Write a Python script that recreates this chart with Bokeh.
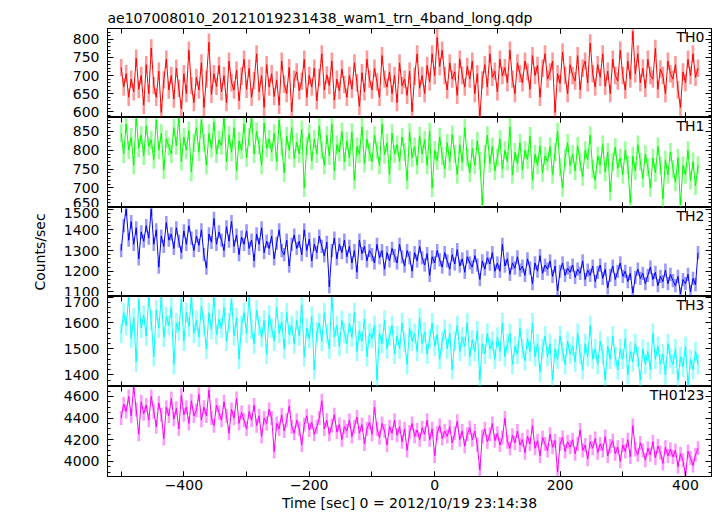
import numpy as np
from bokeh.plotting import figure
from bokeh.layouts import column
from bokeh.models import Range1d, LinearAxis, SingleIntervalTicker, Label, Title, ColumnDataSource
from bokeh.embed import file_html
from bokeh.resources import INLINE

title_text = "ae107008010_20121019231438_wam1_trn_4band_long.qdp"
x_label = "Time [sec] 0 = 2012/10/19 23:14:38"
y_label = "Counts/sec"
band_names = ["TH0", "TH1", "TH2", "TH3", "TH0123"]
band_colors = ["#ff0000", "#00ff00", "#0000ff", "#00ffff", "#ff00ff"]
x_tick_values = [-400, -200]
x_tick_labels = ["\u2212400", "\u2212200"]

# time bins (4 s) from -500 s to 420 s
time_sec = np.arange(-500, 421, 4)

th0 = [722, 668, 705, 640, 690, 655, 748, 662, 700, 618,
       730, 650, 776, 672, 640, 712, 598, 688, 745, 660,
       700, 635, 720, 665, 608, 705, 650, 770, 672, 625,
       695, 660, 735, 612, 690, 792, 648, 705, 670, 728,
       655, 700, 625, 740, 680, 660, 715, 630, 698, 745,
       662, 720, 640, 686, 760, 655, 700, 612, 730, 668,
       705, 642, 688, 618, 740, 676, 650, 722, 600, 690,
       710, 658, 684, 745, 640, 700, 668, 720, 630, 695,
       760, 660, 702, 672, 740, 632, 690, 658, 718, 675,
       640, 700, 662, 735, 680, 615, 708, 655, 745, 690,
       660, 720, 682, 640, 755, 690, 668, 710, 650, 700,
       625, 735, 672, 690, 645, 712, 600, 698, 760, 665,
       700, 650, 728, 682, 760, 700, 805, 725, 770, 700,
       660, 735, 690, 710, 645, 745, 700, 668, 725, 690,
       740, 650, 705, 582, 688, 730, 668, 760, 695, 712,
       655, 745, 700, 722, 680, 770, 690, 650, 735, 705,
       680, 740, 710, 662, 755, 700, 728, 640, 720, 760,
       690, 710, 740, 598, 705, 678, 765, 700, 650, 730,
       700, 685, 755, 660, 720, 740, 680, 790, 705, 668,
       730, 695, 760, 670, 712, 650, 745, 700, 685, 770,
       700, 660, 740, 690, 822, 705, 760, 680, 720, 665,
       745, 700, 690, 775, 662, 718, 700, 650, 740, 705,
       690, 730, 660, 612, 710, 680, 745, 700, 760, 695,
       720]

th1 = [845, 790, 870, 800, 835, 760, 888, 805, 840, 785,
       865, 810, 828, 775, 880, 800, 845, 748, 830, 810,
       790, 860, 812, 888, 770, 835, 800, 852, 742, 820,
       860, 795, 880, 820, 760, 845, 805, 875, 790, 828,
       812, 888, 770, 840, 795, 860, 745, 825, 800, 870,
       780, 835, 888, 790, 850, 812, 760, 872, 805, 830,
       795, 845, 770, 880, 810, 740, 838, 800, 860, 778,
       822, 790, 855, 700, 812, 845, 772, 830, 790, 865,
       800, 760, 840, 785, 870, 745, 815, 795, 850, 770,
       825, 780, 848, 720, 810, 790, 862, 765, 830, 795,
       770, 840, 800, 760, 870, 788, 820, 735, 845, 790,
       815, 770, 835, 795, 720, 848, 780, 810, 760, 838,
       790, 828, 760, 850, 700, 800, 772, 835, 785, 750,
       820, 770, 842, 790, 735, 815, 768, 860, 780, 740,
       805, 760, 825, 772, 655, 790, 840, 765, 810, 745,
       780, 830, 750, 800, 770, 862, 735, 795, 765, 820,
       748, 800, 775, 838, 720, 790, 760, 812, 740, 785,
       770, 810, 735, 795, 850, 755, 700, 780, 820, 760,
       790, 745, 812, 768, 730, 800, 775, 840, 750, 720,
       785, 760, 815, 742, 795, 690, 770, 808, 752, 780,
       735, 800, 760, 660, 785, 745, 815, 770, 725, 790,
       755, 700, 780, 740, 810, 760, 672, 775, 735, 795,
       750, 715, 780, 655, 760, 735, 800, 720, 770, 705,
       760]

th2 = [1300, 1420, 1500, 1350, 1440, 1330, 1410, 1260, 1390, 1345,
       1420, 1360, 1500, 1330, 1400, 1220, 1370, 1320, 1435, 1350,
       1380, 1310, 1410, 1345, 1290, 1395, 1330, 1420, 1360, 1300,
       1370, 1325, 1400, 1280, 1215, 1380, 1340, 1455, 1330, 1390,
       1350, 1300, 1415, 1345, 1440, 1320, 1375, 1280, 1365, 1330,
       1395, 1310, 1350, 1250, 1380, 1330, 1410, 1290, 1345, 1310,
       1370, 1260, 1335, 1400, 1300, 1280, 1350, 1225, 1330, 1375,
       1310, 1345, 1280, 1400, 1300, 1355, 1250, 1330, 1290, 1370,
       1320, 1275, 1340, 1125, 1300, 1360, 1260, 1330, 1290, 1350,
       1270, 1320, 1240, 1300, 1195, 1350, 1285, 1320, 1250, 1300,
       1280, 1240, 1330, 1265, 1300, 1210, 1290, 1250, 1310, 1275,
       1240, 1330, 1270, 1225, 1300, 1265, 1200, 1290, 1250, 1320,
       1265, 1230, 1285, 1180, 1270, 1240, 1300, 1255, 1220, 1290,
       1250, 1210, 1280, 1235, 1305, 1225, 1260, 1195, 1270, 1240,
       1220, 1275, 1230, 1160, 1250, 1210, 1265, 1235, 1290, 1200,
       1240, 1200, 1330, 1225, 1260, 1185, 1240, 1215, 1270, 1205,
       1225, 1180, 1260, 1215, 1140, 1240, 1200, 1275, 1190, 1230,
       1210, 1250, 1175, 1225, 1105, 1200, 1240, 1180, 1215, 1195,
       1230, 1170, 1210, 1190, 1250, 1160, 1205, 1180, 1225, 1150,
       1195, 1230, 1165, 1210, 1120, 1180, 1225, 1160, 1200, 1240,
       1175, 1200, 1150, 1190, 1095, 1170, 1210, 1165, 1190, 1140,
       1180, 1220, 1160, 1195, 1130, 1175, 1150, 1205, 1140, 1185,
       1155, 1130, 1175, 1090, 1160, 1140, 1185, 1100, 1165, 1135,
       1290]

th3 = [1560, 1640, 1590, 1700, 1540, 1620, 1450, 1690, 1580, 1630,
       1550, 1700, 1610, 1470, 1650, 1580, 1700, 1545, 1625, 1590,
       1660, 1440, 1600, 1570, 1690, 1530, 1640, 1585, 1700, 1560,
       1610, 1545, 1665, 1590, 1500, 1640, 1575, 1700, 1555, 1615,
       1580, 1660, 1530, 1600, 1690, 1550, 1620, 1460, 1590, 1640,
       1560, 1700, 1575, 1520, 1650, 1590, 1545, 1610, 1480, 1630,
       1580, 1530, 1660, 1560, 1605, 1500, 1640, 1555, 1590, 1520,
       1610, 1550, 1670, 1470, 1580, 1540, 1625, 1420, 1565, 1600,
       1530, 1640, 1560, 1500, 1700, 1545, 1590, 1510, 1610, 1560,
       1520, 1600, 1545, 1640, 1490, 1570, 1530, 1615, 1470, 1560,
       1540, 1590, 1380, 1560, 1520, 1610, 1500, 1550, 1590, 1480,
       1550, 1500, 1600, 1525, 1440, 1580, 1530, 1560, 1490, 1620,
       1520, 1565, 1480, 1540, 1600, 1510, 1555, 1460, 1530, 1575,
       1500, 1560, 1420, 1530, 1590, 1490, 1545, 1510, 1600, 1470,
       1535, 1490, 1570, 1380, 1520, 1480, 1560, 1500, 1530, 1460,
       1545, 1490, 1600, 1470, 1520, 1560, 1440, 1510, 1480, 1580,
       1500, 1455, 1540, 1490, 1600, 1470, 1520, 1410, 1500, 1550,
       1470, 1520, 1380, 1500, 1460, 1550, 1490, 1440, 1530, 1480,
       1510, 1450, 1560, 1480, 1420, 1520, 1470, 1590, 1460, 1500,
       1440, 1530, 1480, 1380, 1510, 1460, 1550, 1470, 1420, 1500,
       1460, 1540, 1400, 1490, 1450, 1520, 1470, 1380, 1500, 1440,
       1490, 1420, 1560, 1460, 1510, 1440, 1480, 1400, 1520, 1465,
       1440, 1500, 1380, 1470, 1430, 1510, 1360, 1460, 1420, 1490,
       1440]

th0123 = [4400, 4530, 4460, 4600, 4420, 4690, 4480, 4250, 4550, 4440,
          4520, 4380, 4600, 4460, 4320, 4540, 4430, 4210, 4500, 4420,
          4580, 4390, 4490, 4300, 4610, 4430, 4500, 4350, 4560, 4420,
          4470, 4620, 4380, 4500, 4420, 4660, 4400, 4330, 4520, 4450,
          4380, 4550, 4420, 4260, 4480, 4400, 4580, 4350, 4450, 4380,
          4300, 4460, 4380, 4520, 4330, 4420, 4230, 4400, 4350, 4480,
          4400, 4090, 4350, 4300, 4430, 4280, 4380, 4510, 4320, 4260,
          4380, 4300, 4150, 4340, 4420, 4290, 4360, 4250, 4320, 4400,
          4560, 4300, 4380, 4250, 4330, 4430, 4270, 4340, 4200, 4320,
          4280, 4380, 4230, 4320, 4410, 4260, 4340, 4160, 4300, 4360,
          4250, 4500, 4300, 4220, 4350, 4280, 4150, 4320, 4260, 4380,
          4240, 4320, 4180, 4300, 4100, 4270, 4350, 4230, 4290, 4200,
          4310, 4250, 4380, 4200, 4300, 4050, 4260, 4330, 4210, 4280,
          4230, 4320, 4170, 4260, 4370, 4200, 4280, 4140, 4250, 4310,
          4200, 4280, 4150, 3920, 4230, 4300, 4180, 4250, 4350, 4190,
          4260, 4150, 4220, 4400, 4180, 4120, 4240, 4170, 4280, 4150,
          4200, 4080, 4230, 4160, 4330, 4120, 4190, 4050, 4220, 4160,
          4100, 4250, 4130, 4190, 3900, 4160, 4220, 4090, 4180, 4130,
          4200, 4070, 4160, 4290, 4100, 4150, 4020, 4180, 4120, 4210,
          4080, 4160, 4100, 4230, 4050, 4140, 4190, 4070, 4130, 4000,
          4150, 4090, 4200, 4040, 4330, 4110, 4060, 4170, 4100, 4010,
          4120, 4060, 4180, 4030, 4140, 4080, 3980, 4130, 4050, 4110,
          4040, 4100, 3950, 4070, 4010, 3870, 4090, 4030, 3960, 4060,
          4120]

# typical 1-sigma error bar per band (counts/sec)
band_errors = [24, 24, 32, 38, 65]

series = [th0, th1, th2, th3, th0123]
y_limits = [(584, 830), (648, 887), (1078, 1508), (1355, 1702), (3859, 4692)]
y_tick_step = [50, 50, 100, 100, 200]
y_minor = [5, 5, 5, 5, 4]
frame_h = [89, 90, 89, 90, 90]
x_limits = (-521.8, 441.5)

FONT = "DejaVu Sans"
FS = "14px"


def hide_labels(ax):
    ax.major_label_text_font_size = "0px"
    ax.major_label_text_alpha = 0
    ax.major_label_text_color = None
    ax.major_label_standoff = 0


def x_axis(show_labels):
    ax = LinearAxis(ticker=SingleIntervalTicker(interval=200, num_minor_ticks=2))
    ax.major_tick_in = 5
    ax.major_tick_out = 0
    ax.minor_tick_in = 5
    ax.minor_tick_out = 0
    ax.axis_line_color = "black"
    ax.major_tick_line_color = "black"
    ax.minor_tick_line_color = "black"
    if show_labels:
        ax.major_label_overrides = dict(zip(x_tick_values, x_tick_labels))
        ax.major_label_text_font = FONT
        ax.major_label_text_font_size = FS
        ax.major_label_text_color = "black"
        ax.major_label_standoff = 3
        ax.axis_label = x_label
        ax.axis_label_text_font = FONT
        ax.axis_label_text_font_size = FS
        ax.axis_label_text_font_style = "normal"
        ax.axis_label_text_color = "black"
        ax.axis_label_standoff = 2
    else:
        hide_labels(ax)
    return ax


def y_axis(i, show_labels, label=None):
    ax = LinearAxis(ticker=SingleIntervalTicker(interval=y_tick_step[i], num_minor_ticks=y_minor[i]))
    ax.major_tick_in = 6
    ax.major_tick_out = 0
    ax.minor_tick_in = 3
    ax.minor_tick_out = 0
    ax.axis_line_color = "black"
    ax.major_tick_line_color = "black"
    ax.minor_tick_line_color = "black"
    if show_labels:
        ax.major_label_text_font = FONT
        ax.major_label_text_font_size = FS
        ax.major_label_text_color = "black"
        ax.major_label_standoff = 8
        if label:
            ax.axis_label = label
            ax.axis_label_text_font = FONT
            ax.axis_label_text_font_size = FS
            ax.axis_label_text_font_style = "normal"
            ax.axis_label_text_color = "black"
            ax.axis_label_standoff = 13
    else:
        hide_labels(ax)
    return ax


figs = []
for i in range(5):
    first = i == 0
    last = i == 4
    h = frame_h[i] + (28 if first else 0) + (40 if last else 0)
    p = figure(width=717, height=h,
               x_range=Range1d(*x_limits), y_range=Range1d(*y_limits[i]),
               output_backend="svg", toolbar_location=None,
               x_axis_location=None, y_axis_location=None,
               min_border_left=107, min_border_right=6,
               min_border_top=28 if first else 0,
               min_border_bottom=40 if last else 0)
    p.grid.visible = False
    p.outline_line_color = "black"
    p.outline_line_width = 1
    p.background_fill_color = "white"
    p.border_fill_color = "white"

    vals = np.array(series[i], dtype=float)
    err = band_errors[i]
    src = ColumnDataSource(dict(t=time_sec, c=vals, lo=vals - err, hi=vals + err))
    p.segment("t", "lo", "t", "hi", source=src, line_color=band_colors[i],
              line_alpha=0.4, line_width=2.6)
    p.line("t", "c", source=src, line_color=band_colors[i], line_width=1)

    p.add_layout(y_axis(i, True, y_label if i == 2 else None), "left")
    p.add_layout(y_axis(i, False), "right")
    p.add_layout(x_axis(False), "above")
    p.add_layout(x_axis(last), "below")

    p.add_layout(Label(x=x_limits[1], y=y_limits[i][1], x_offset=-7, y_offset=0,
                       text=band_names[i], text_align="right", text_baseline="top",
                       text_font=FONT, text_font_size=FS, text_color="black"))
    if first:
        p.add_layout(Title(text=title_text, align="left", text_font=FONT,
                           text_font_size=FS, text_font_style="normal",
                           text_color="black", standoff=5), "above")
    figs.append(p)

layout = column(*figs, spacing=0)
open("out.html", "w").write(file_html(layout, INLINE))
